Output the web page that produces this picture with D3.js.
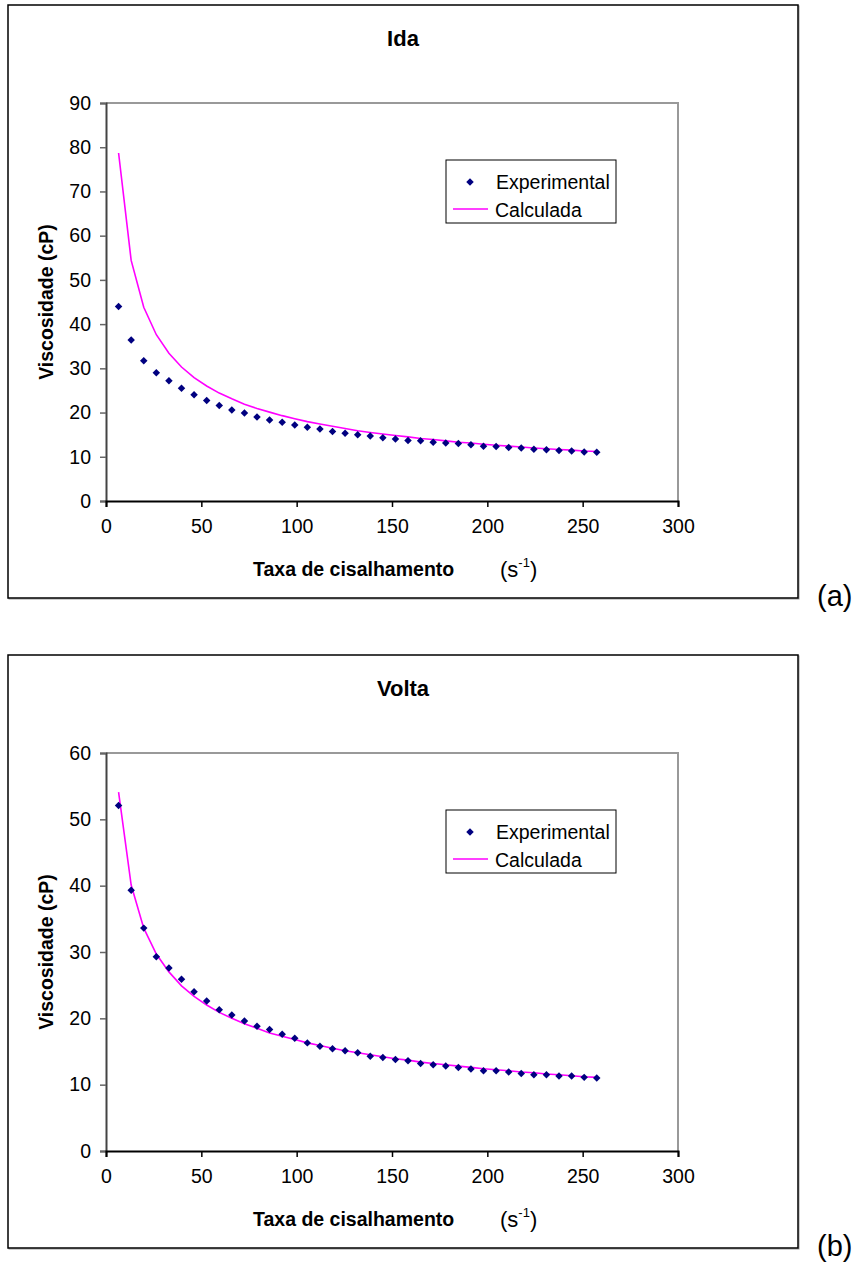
<!DOCTYPE html>
<html>
<head>
<meta charset="utf-8">
<script src="https://cdn.jsdelivr.net/npm/d3@7"></script>
<style>
  body { margin: 0; background: #fff; }
  svg { display: block; font-family: "Liberation Sans", Arial, sans-serif; }
</style>
</head>
<body>
<svg id="fig" width="856" height="1267"></svg>
<script>
// shear rate (s^-1), same for both runs
var shearRate = [6.6, 13.2, 19.8, 26.4, 33.0, 39.6, 46.2, 52.8, 59.4, 66.0,
  72.6, 79.2, 85.8, 92.4, 99.0, 105.6, 112.2, 118.8, 125.4, 132.0,
  138.6, 145.2, 151.8, 158.4, 165.0, 171.6, 178.2, 184.8, 191.4, 198.0,
  204.6, 211.2, 217.8, 224.4, 231.0, 237.6, 244.2, 250.8, 257.4];

var idaExperimental = [44.0, 36.4, 31.7, 29.0, 27.2, 25.5, 24.0, 22.7, 21.6, 20.6,
  19.9, 19.0, 18.3, 17.8, 17.2, 16.7, 16.3, 15.7, 15.3, 15.0,
  14.7, 14.3, 14.0, 13.7, 13.6, 13.3, 13.1, 13.0, 12.7, 12.4,
  12.3, 12.1, 12.0, 11.7, 11.6, 11.4, 11.3, 11.1, 11.0];
var idaCalculada = [78.7, 54.4, 43.8, 37.6, 33.4, 30.3, 27.9, 26.0, 24.4, 23.1,
  21.9, 20.9, 20.1, 19.3, 18.6, 17.95, 17.4, 16.9, 16.4, 15.9,
  15.5, 15.15, 14.8, 14.5, 14.15, 13.9, 13.6, 13.3, 13.1, 12.85,
  12.6, 12.4, 12.2, 12.0, 11.8, 11.65, 11.5, 11.3, 11.2];

var voltaExperimental = [52.1, 39.3, 33.6, 29.3, 27.6, 25.9, 24.0, 22.6, 21.3, 20.5,
  19.6, 18.8, 18.3, 17.6, 17.0, 16.3, 15.8, 15.4, 15.1, 14.8,
  14.3, 14.1, 13.8, 13.6, 13.2, 13.0, 12.8, 12.6, 12.35, 12.1,
  12.1, 11.9, 11.7, 11.5, 11.5, 11.3, 11.3, 11.1, 11.0];
var voltaCalculada = [54.1, 40.1, 33.6, 29.7, 27.0, 24.9, 23.3, 22.0, 20.9, 20.0,
  19.2, 18.5, 17.8, 17.3, 16.8, 16.3, 15.9, 15.5, 15.1, 14.8,
  14.5, 14.2, 13.9, 13.7, 13.4, 13.2, 13.0, 12.8, 12.6, 12.4,
  12.25, 12.1, 11.9, 11.8, 11.6, 11.5, 11.35, 11.2, 11.1];

var xTicks = [0, 50, 100, 150, 200, 250, 300];
var idaYTicks = [0, 10, 20, 30, 40, 50, 60, 70, 80, 90];
var voltaYTicks = [0, 10, 20, 30, 40, 50, 60];

var svg = d3.select("#fig");
var fs = 19.5;

function drawPanel(top, title, tag, yTicks, expVals, calcVals) {
  var g = svg.append("g").attr("transform", "translate(0," + top + ")");
  var left = 106, right = 678, plotTop = 98, plotBottom = 496;

  // outer chart frame
  g.append("rect")
    .attr("x", 9).attr("y", 1).attr("width", 790).attr("height", 593)
    .attr("fill", "none").attr("stroke", "#999").attr("stroke-width", 1);
  g.append("rect")
    .attr("x", 8).attr("y", 0).attr("width", 790).attr("height", 593)
    .attr("fill", "#fff").attr("stroke", "#000").attr("stroke-width", 1.5);

  var x = d3.scaleLinear().domain([0, 300]).range([left, right]);
  var y = d3.scaleLinear().domain([0, d3.max(yTicks)]).range([plotBottom, plotTop]);

  // plot area border (top / right)
  g.append("path")
    .attr("d", "M" + left + "," + plotTop + "H" + right + "V" + plotBottom)
    .attr("fill", "none").attr("stroke", "#999").attr("stroke-width", 2);

  var yAxis = g.append("g")
    .attr("transform", "translate(" + left + ",0)")
    .call(d3.axisLeft(y).tickValues(yTicks).tickSize(6).tickPadding(9));
  yAxis.select(".domain").attr("stroke", "#444").attr("stroke-width", 2);
  yAxis.selectAll(".tick line").attr("stroke", "#666").attr("stroke-width", 1.5);
  yAxis.selectAll("text").attr("font-size", fs).attr("font-family", "Liberation Sans, Arial").attr("fill", "#000");

  var xAxis = g.append("g")
    .attr("transform", "translate(0," + plotBottom + ")")
    .call(d3.axisBottom(x).tickValues(xTicks).tickSize(6).tickPadding(12));
  xAxis.select(".domain").attr("stroke", "#000").attr("stroke-width", 2);
  xAxis.selectAll(".tick line").attr("stroke", "#000").attr("stroke-width", 1.5);
  xAxis.selectAll("text").attr("font-size", fs).attr("font-family", "Liberation Sans, Arial").attr("fill", "#000");

  var pts = shearRate.map(function(d, i) { return { x: d, exp: expVals[i], calc: calcVals[i] }; });

  g.append("path")
    .datum(pts)
    .attr("fill", "none")
    .attr("stroke", "#ff00ff")
    .attr("stroke-width", 1.6)
    .attr("d", d3.line().x(function(d) { return x(d.x); }).y(function(d) { return y(d.calc); }));

  var diamond = d3.symbol().type(d3.symbolSquare).size(28);
  g.selectAll("path.pt")
    .data(pts)
    .enter().append("path")
    .attr("class", "pt")
    .attr("d", diamond)
    .attr("fill", "#000080")
    .attr("transform", function(d) { return "translate(" + x(d.x) + "," + y(d.exp) + ") rotate(45)"; });

  // title
  g.append("text")
    .attr("x", 403).attr("y", 41)
    .attr("text-anchor", "middle")
    .attr("font-size", 22).attr("font-weight", "bold")
    .text(title);

  // axis titles
  g.append("text")
    .attr("transform", "translate(53," + ((plotTop + plotBottom) / 2) + ") rotate(-90)")
    .attr("text-anchor", "middle")
    .attr("font-size", fs).attr("font-weight", "bold")
    .text("Viscosidade (cP)");

  g.append("text")
    .attr("x", 253).attr("y", 571)
    .attr("font-size", fs).attr("font-weight", "bold")
    .text("Taxa de cisalhamento");

  var unit = g.append("text")
    .attr("x", 500).attr("y", 572)
    .attr("font-size", 22);
  unit.append("tspan").text("(s");
  unit.append("tspan").attr("font-size", 13).attr("dy", -10).text("-1");
  unit.append("tspan").attr("dy", 10).text(")");

  // legend
  var lg = g.append("g").attr("transform", "translate(446,155)");
  lg.append("rect")
    .attr("width", 170).attr("height", 63)
    .attr("fill", "#fff").attr("stroke", "#000").attr("stroke-width", 1);
  lg.append("path")
    .attr("d", diamond)
    .attr("fill", "#000080")
    .attr("transform", "translate(24,22) rotate(45)");
  lg.append("line")
    .attr("x1", 7).attr("x2", 42).attr("y1", 49).attr("y2", 49)
    .attr("stroke", "#ff00ff").attr("stroke-width", 1.6);
  lg.append("text").attr("x", 50).attr("y", 29).attr("font-size", fs).text("Experimental");
  lg.append("text").attr("x", 49).attr("y", 57).attr("font-size", fs).text("Calculada");

  // panel tag
  g.append("text")
    .attr("x", 817).attr("y", 601)
    .attr("font-size", 29)
    .text(tag);
}

drawPanel(5, "Ida", "(a)", idaYTicks, idaExperimental, idaCalculada);
drawPanel(655, "Volta", "(b)", voltaYTicks, voltaExperimental, voltaCalculada);
</script>
</body>
</html>
